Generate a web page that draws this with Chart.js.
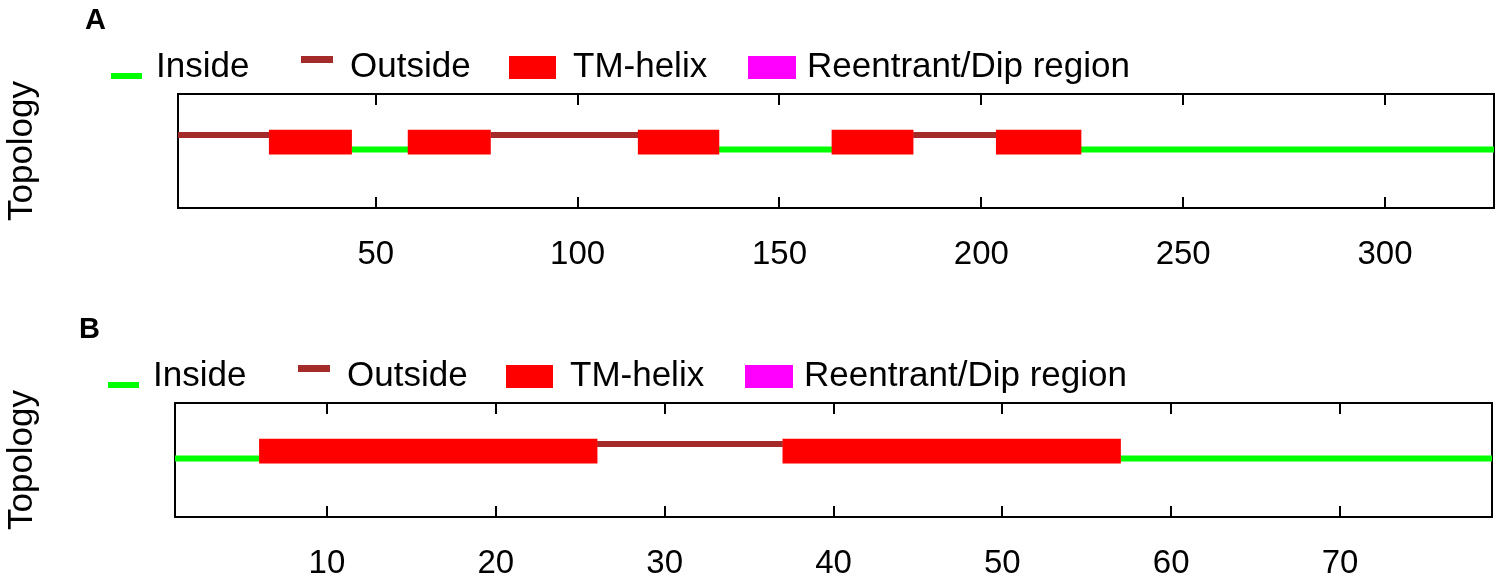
<!DOCTYPE html>
<html>
<head>
<meta charset="utf-8">
<script src="https://cdn.jsdelivr.net/npm/chart.js@4.4.1/dist/chart.umd.min.js"></script>
<style>
  html, body { margin: 0; padding: 0; background: #fff; }
  body { width: 1502px; height: 581px; overflow: hidden; position: relative;
         font-family: "Liberation Sans", Arial, sans-serif; color: #000; }
  .panel { position: absolute; left: 0; width: 1502px; height: 272px; }
  .panel canvas { position: absolute; left: 0; top: 0; }
  .tag { position: absolute; font-weight: bold; font-size: 29px; line-height: 1; }
  .lg-mark { position: absolute; }
  .lg-text { position: absolute; font-size: 35px; line-height: 1; white-space: nowrap; }
</style>
</head>
<body>
<div id="panelA" class="panel"><canvas id="chartA" width="1502" height="272"></canvas></div>
<div id="panelB" class="panel"><canvas id="chartB" width="1502" height="272"></canvas></div>
<script>
// ---------------- DATA ----------------
const panelLabels = ['A', 'B'];
const axisTitle = 'Topology';
const legendLabels = ['Inside', 'Outside', 'TM-helix', 'Reentrant/Dip region'];

// Panel A (sequence positions 1..327)
const rangeA = [1, 327];
const tickValuesA = [50, 100, 150, 200, 250, 300];
const insideA  = [[44, 58], [135, 163], [224.7, 327]];
const outsideA = [[1, 23.6], [78.4, 115], [183.1, 203.7]];
const tmHelixA = [[23.6, 44], [58, 78.4], [115, 135], [163, 183.1], [203.7, 224.7]];

// Panel B (sequence positions 1..79)
const rangeB = [1, 79];
const tickValuesB = [10, 20, 30, 40, 50, 60, 70];
const insideB  = [[1, 6], [57, 79]];
const outsideB = [[26, 37]];
const tmHelixB = [[6, 26], [37, 57]];

// topology levels (inside = 0, outside = 1, helix spans between)
const LEVEL_INSIDE = 0;
const LEVEL_OUTSIDE = 1;
const LEVEL_TM = 0.5;

// ---------------- STYLE / LAYOUT ----------------
const COLORS = ['#00ff00', '#a52a2a', '#ff0000', '#ff00ff'];
const FONT = '"Liberation Sans", Arial, sans-serif';
const LAYOUT = {
  A: { top: 0,   plotLeft: 178, plotRight: 1494, plotTop: 94, plotBottom: 208, dx: 0,  tagLeft: 85 },
  B: { top: 309, plotLeft: 175, plotRight: 1492, plotTop: 94, plotBottom: 208, dx: -3, tagLeft: 79 }
};
const LEGEND_MARKS = [
  { left: 111, top: 72.5, w: 31, h: 6.5 },
  { left: 301, top: 56,   w: 32, h: 6.5 },
  { left: 509, top: 56,   w: 47, h: 23 },
  { left: 748, top: 56,   w: 48, h: 23 }
];
const LEGEND_TEXT_LEFT = [156, 350, 573, 807];
const LEGEND_TEXT_TOP = 47.4;
const PX_PER_LEVEL = 18;      // distance between inside and outside lines
const LINE_W = 6;

Chart.defaults.font.family = FONT;
Chart.defaults.color = '#000';

function segsToPoints(segs, y) {
  const pts = [];
  segs.forEach(s => {
    pts.push({ x: s[0], y: y });
    pts.push({ x: s[1], y: y });
    pts.push({ x: s[1], y: null });
  });
  return pts;
}

function buildPanel(key, idx, range, ticks, inside, outside, tm) {
  const L = LAYOUT[key];
  const panel = document.getElementById('panel' + key);
  panel.style.top = L.top + 'px';

  // panel tag
  const tag = document.createElement('div');
  tag.className = 'tag';
  tag.textContent = panelLabels[idx];
  tag.style.left = L.tagLeft + 'px';
  tag.style.top = '4.5px';
  panel.appendChild(tag);

  // legend
  legendLabels.forEach((lab, i) => {
    const m = LEGEND_MARKS[i];
    const mk = document.createElement('div');
    mk.className = 'lg-mark';
    mk.style.left = (m.left + L.dx) + 'px';
    mk.style.top = m.top + 'px';
    mk.style.width = m.w + 'px';
    mk.style.height = m.h + 'px';
    mk.style.background = COLORS[i];
    panel.appendChild(mk);
    const tx = document.createElement('div');
    tx.className = 'lg-text';
    tx.textContent = lab;
    tx.style.left = (LEGEND_TEXT_LEFT[i] + L.dx) + 'px';
    tx.style.top = LEGEND_TEXT_TOP + 'px';
    panel.appendChild(tx);
  });

  const canvas = document.getElementById('chart' + key);
  const H = canvas.height;
  const plotH = L.plotBottom - L.plotTop;
  // y-range so that inside/outside lines sit 37px below top / 59px above bottom
  const yMin = LEVEL_INSIDE - 59 / PX_PER_LEVEL;
  const yMax = yMin + plotH / PX_PER_LEVEL;

  const tickHook = s => { s.ticks = ticks.map(v => ({ value: v })); };
  const gridCommon = { display: true, drawOnChartArea: false, drawTicks: true, tickLength: -11, color: '#000', lineWidth: 2 };
  const borderCommon = { display: true, color: '#000', width: 2 };

  new Chart(canvas, {
    type: 'line',
    data: {
      datasets: [
        {
          type: 'bar', label: legendLabels[2], indexAxis: 'y',
          data: tm.map(s => ({ x: [s[0], s[1]], y: LEVEL_TM })),
          backgroundColor: COLORS[2], borderWidth: 0,
          barThickness: PX_PER_LEVEL + LINE_W,
          xAxisID: 'x', yAxisID: 'y'
        },
        {
          label: legendLabels[0], data: segsToPoints(inside, LEVEL_INSIDE),
          borderColor: COLORS[0], borderWidth: LINE_W, pointRadius: 0,
          spanGaps: false, borderCapStyle: 'butt', tension: 0, fill: false,
          xAxisID: 'x', yAxisID: 'y'
        },
        {
          label: legendLabels[1], data: segsToPoints(outside, LEVEL_OUTSIDE),
          borderColor: COLORS[1], borderWidth: LINE_W, pointRadius: 0,
          spanGaps: false, borderCapStyle: 'butt', tension: 0, fill: false,
          xAxisID: 'x', yAxisID: 'y'
        }
      ]
    },
    options: {
      responsive: false,
      animation: false,
      devicePixelRatio: 1,
      layout: { padding: 0 },
      plugins: { legend: { display: false }, tooltip: { enabled: false } },
      scales: {
        x: {
          type: 'linear', position: 'bottom', min: range[0], max: range[1],
          afterBuildTicks: tickHook,
          afterFit: s => { s.height = H - L.plotBottom; },
          ticks: { font: { size: 33 }, color: '#000', padding: 38, maxRotation: 0, autoSkip: false },
          grid: gridCommon, border: borderCommon
        },
        xTop: {
          type: 'linear', position: 'top', min: range[0], max: range[1],
          afterBuildTicks: tickHook,
          afterFit: s => { s.height = L.plotTop; },
          ticks: { display: false },
          grid: gridCommon, border: borderCommon
        },
        y: {
          type: 'linear', position: 'left', min: yMin, max: yMax,
          afterFit: s => { s.width = L.plotLeft; },
          ticks: { display: false },
          grid: { display: false, drawTicks: false },
          border: borderCommon,
          title: { display: true, text: axisTitle, font: { size: 35 }, color: '#000', padding: { top: 1, bottom: 0 } }
        },
        yRight: {
          type: 'linear', position: 'right', min: yMin, max: yMax,
          afterFit: s => { s.width = 1502 - L.plotRight; },
          ticks: { display: false },
          grid: { display: false, drawTicks: false },
          border: borderCommon
        }
      }
    }
  });
}

buildPanel('A', 0, rangeA, tickValuesA, insideA, outsideA, tmHelixA);
buildPanel('B', 1, rangeB, tickValuesB, insideB, outsideB, tmHelixB);
</script>
</body>
</html>
